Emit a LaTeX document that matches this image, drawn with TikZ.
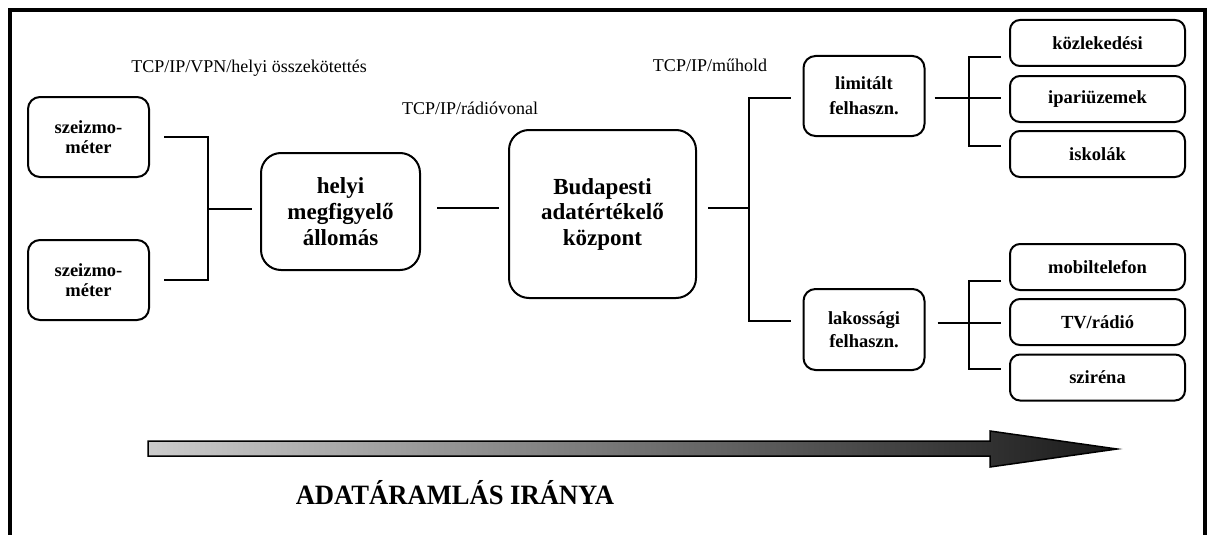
\documentclass[tikz,border=0pt]{standalone}
\usepackage{fontspec}
\setmainfont{Liberation Serif}
\usepackage{tikz}
\usetikzlibrary{positioning,calc}

\begin{document}
\begin{tikzpicture}[
  x=1pt, y=-1pt,
  sensbox/.style={draw, line width=2pt, rounded corners=12pt, align=center, minimum width=121pt, minimum height=80pt, font=\bfseries\fontsize{18.5}{20}\selectfont},
  mainbox/.style={draw, line width=2pt, rounded corners=20pt, align=center, font=\bfseries\fontsize{23}{25.5}\selectfont},
  userbox/.style={draw, line width=2pt, rounded corners=10pt, align=center, minimum width=175pt, minimum height=46pt, font=\bfseries\fontsize{18.5}{22}\selectfont},
  linklabel/.style={font=\fontsize{18}{21}\selectfont},
  link/.style={line width=2pt},
]
\useasboundingbox (0,0) rectangle (1212,535);
% frame, open at the bottom
\draw[line width=3.5pt] (10,535) -- (10,10) -- (1205,10) -- (1205,535);

% Sensors and local station
\node[sensbox] (sz1) at (88.5,137) {szeizmo-\\méter};
\node[sensbox] (sz2) at (88.5,280) {szeizmo-\\méter};
\node[mainbox, minimum width=159pt, minimum height=117pt, font=\bfseries\fontsize{23}{26}\selectfont] (helyi) at (340.5,211.5) {helyi\\megfigyelő\\állomás};

% Budapest centre
\node[mainbox, minimum width=187pt, minimum height=168pt] (bp) at (602.5,214) {Budapesti\\adatértékelő\\központ};

% User groups
\node[sensbox, minimum height=80pt, font=\bfseries\fontsize{18.5}{25}\selectfont] (lim) at (864,96) {limitált\\felhaszn.};
\node[sensbox, minimum height=81pt, font=\bfseries\fontsize{18.5}{23}\selectfont] (lak) at (864,329.5) {lakossági\\felhaszn.};

% Receivers
\node[userbox] (kozl) at (1097.5,43) {közlekedési};
\node[userbox] (ipar) at (1097.5,99) {ipariüzemek};
\node[userbox] (isk) at (1097.5,154) {iskolák};
\node[userbox] (mobil) at (1097.5,267) {mobiltelefon};
\node[userbox] (tv) at (1097.5,322) {TV/rádió};
\node[userbox] (szir) at (1097.5,377.5) {sziréna};

% Link labels
\node[linklabel] (lbl1) at (249,68) {TCP/IP/VPN/helyi összekötettés};
\node[linklabel] (lbl2) at (470,108) {TCP/IP/rádióvonal};
\node[linklabel] (lbl3) at (710,65) {TCP/IP/műhold};

% Junctions
\coordinate (j1) at (208,209);
\coordinate (j2) at (749,208);
\coordinate (j4) at (969,98);
\coordinate (j5) at (969,323);

% Connectors
\draw[link] ([xshift=14pt]sz1.east) -| (j1) |- ([xshift=14pt]sz2.east);
\draw[link, shorten >=8pt] (j1) -- (helyi.west |- j1);
\draw[link, shorten <=16pt, shorten >=9pt] (helyi.east |- j2) -- (bp.west |- j2);
\draw[link, shorten <=11pt] (bp.east |- j2) -- (j2);
\draw[link] ([xshift=-12pt,yshift=-2pt]lim.west) -| (j2) |- ([xshift=-12pt,yshift=8.5pt]lak.west);
\draw[link, shorten <=9pt] (lim.east |- j4) -- (j4);
\draw[link] ([xshift=-8pt,yshift=-14pt]kozl.west) -| (j4) |- ([xshift=-8pt,yshift=8pt]isk.west);
\draw[link, shorten >=8pt] (j4) -- (ipar.west |- j4);
\draw[link, shorten <=12pt] (lak.east |- j5) -- (j5);
\draw[link] ([xshift=-8pt,yshift=-14pt]mobil.west) -| (j5) |- ([xshift=-8pt,yshift=8.5pt]szir.west);
\draw[link, shorten >=8pt] (j5) -- (tv.west |- j5);

% Data flow arrow
\shade[left color=black!20, right color=black!90] (148,441) -- (990,441) -- (990,431) -- (1117,449) -- (990,467) -- (990,456) -- (148,456) -- cycle;
\draw[line width=1.5pt] (148,441) -- (990,441) -- (990,431) -- (1117,449) -- (990,467) -- (990,456) -- (148,456) -- cycle;
\node[font=\bfseries\fontsize{28}{30}\selectfont, xscale=0.95] (flow) at (455,493) {ADATÁRAMLÁS IRÁNYA};
\end{tikzpicture}
\end{document}
